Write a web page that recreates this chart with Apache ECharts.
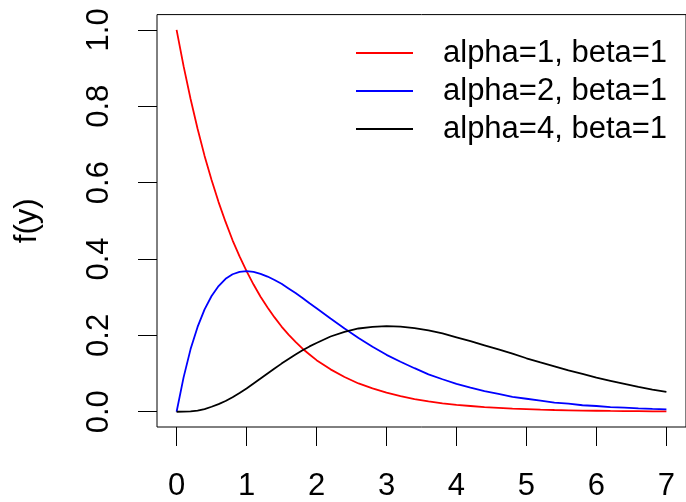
<!DOCTYPE html>
<html>
<head>
<meta charset="utf-8">
<script src="https://cdn.jsdelivr.net/npm/echarts@6/dist/echarts.min.js"></script>
<style>html,body{margin:0;padding:0;background:#fff}#c{width:686px;height:502px}</style>
</head>
<body>
<div id="c"></div>
<script>
var xs = [0,0.1,0.2,0.3,0.4,0.5,0.6,0.7,0.8,0.9,1.0,1.1,1.2,1.3,1.4,1.5,1.6,1.7,1.8,1.9,2.0,2.2,2.4,2.6,2.8,3.0,3.2,3.4,3.6,3.8,4.0,4.2,4.4,4.6,4.8,5.0,5.2,5.4,5.6,5.8,6.0,6.2,6.4,6.6,6.8,7.0];
var alpha1 = [1.000,0.905,0.819,0.741,0.670,0.607,0.549,0.497,0.449,0.407,0.368,0.333,0.301,0.273,0.247,0.223,0.202,0.183,0.165,0.150,0.135,0.111,0.091,0.074,0.061,0.050,0.041,0.033,0.027,0.022,0.018,0.015,0.012,0.010,0.008,0.007,0.0055,0.0045,0.0037,0.0030,0.0025,0.0020,0.0017,0.0014,0.0011,0.0009];
var alpha2 = [0.000,0.090,0.164,0.222,0.268,0.303,0.329,0.348,0.360,0.366,0.368,0.366,0.361,0.354,0.345,0.335,0.323,0.311,0.298,0.284,0.271,0.244,0.218,0.193,0.170,0.149,0.131,0.114,0.098,0.085,0.073,0.063,0.054,0.047,0.039,0.034,0.029,0.024,0.021,0.017,0.015,0.012,0.011,0.009,0.0075,0.0064];
var alpha4 = [0.000,0.0002,0.001,0.003,0.007,0.013,0.020,0.028,0.038,0.049,0.061,0.074,0.087,0.100,0.113,0.126,0.138,0.150,0.161,0.171,0.180,0.197,0.209,0.218,0.222,0.224,0.223,0.219,0.213,0.205,0.195,0.185,0.174,0.163,0.152,0.140,0.129,0.119,0.108,0.099,0.089,0.081,0.073,0.065,0.058,0.052];
var seriesNames = ['alpha=1, beta=1','alpha=2, beta=1','alpha=4, beta=1'];
var xTicks = [0,1,2,3,4,5,6,7];
var yTicks = [0,0.2,0.4,0.6,0.8,1.0];
var yTitle = 'f(y)';

function pairs(ys){ return xs.map(function(x,i){ return [x, ys[i]]; }); }
var FONT = '"Liberation Sans", Arial, Helvetica, sans-serif';
var chart = echarts.init(document.getElementById('c'), null, {renderer:'canvas'});
var colors = ['#ff0000','#0000ff','#000000'];
var data = [alpha1, alpha2, alpha4];
chart.setOption({
  animation: false,
  backgroundColor: '#ffffff',
  grid: {left:157, top:14.6, width:530, height:414.8, show:true, borderColor:'#000', borderWidth:1, backgroundColor:'transparent', containLabel:false},
  legend: {
    show:true, orient:'vertical', left:355, top:37.5, padding:0, itemWidth:57, itemHeight:31, itemGap:7,
    data: seriesNames,
    itemStyle:{opacity:0},
    textStyle:{fontFamily:FONT, fontSize:31, color:'#000', padding:[0,0,0,25]}
  },
  xAxis: {
    type:'value', min:-0.28, max:7.28,
    splitLine:{show:false}, axisLine:{show:false, onZero:false},
    axisTick:{show:true, inside:false, length:19, lineStyle:{color:'#000', width:1}, customValues:xTicks},
    axisLabel:{show:true, margin:44, fontFamily:FONT, fontSize:31, color:'#000', customValues:xTicks, formatter:function(v){return String(v);}}
  },
  yAxis: {
    type:'value', min:-0.04, max:1.04,
    name: yTitle, nameLocation:'middle', nameRotate:90, nameGap:114,
    nameTextStyle:{fontFamily:FONT, fontSize:31, color:'#000'},
    splitLine:{show:false}, axisLine:{show:false, onZero:false},
    axisTick:{show:true, inside:false, length:19, lineStyle:{color:'#000', width:1}, customValues:yTicks},
    axisLabel:{show:true, rotate:90, margin:42, fontFamily:FONT, fontSize:31, color:'#000', customValues:yTicks, formatter:function(v){return v.toFixed(1);}}
  },
  series: seriesNames.map(function(n,i){
    return {name:n, type:'line', data:pairs(data[i]), smooth:false, symbol:'none', showSymbol:false,
      lineStyle:{color:colors[i], width:1.8}, itemStyle:{color:colors[i]}};
  })
});
</script>
</body>
</html>
